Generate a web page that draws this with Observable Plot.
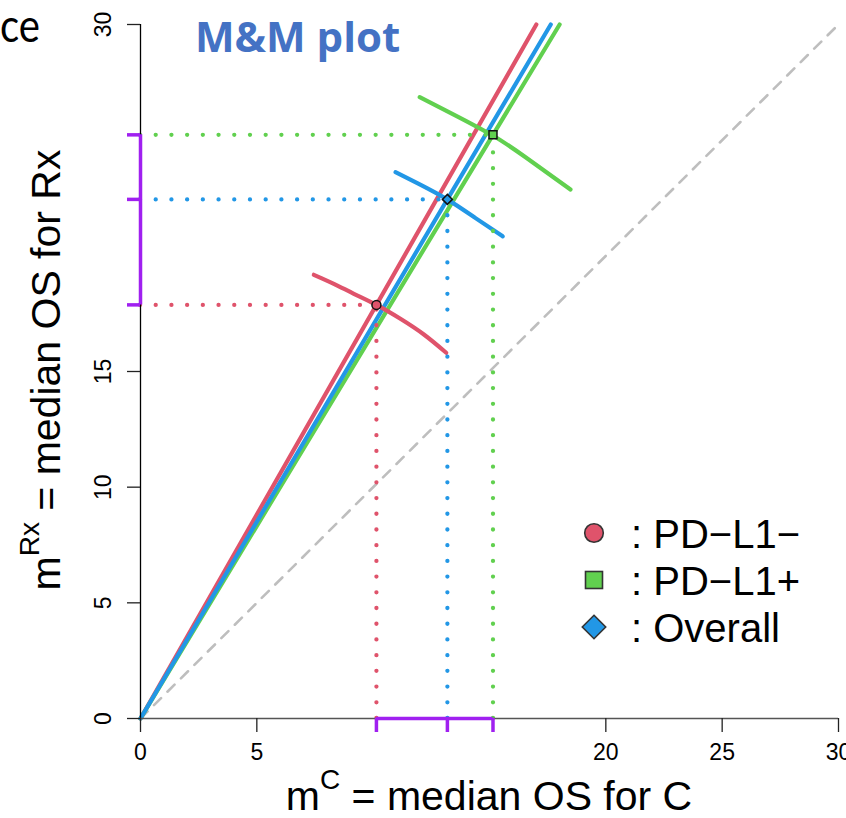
<!DOCTYPE html>
<html><head><meta charset="utf-8">
<script src="https://cdn.jsdelivr.net/npm/d3@7"></script>
<script src="https://cdn.jsdelivr.net/npm/@observablehq/plot@0.6"></script>
<style>
html,body{margin:0;padding:0;background:#fff;overflow:hidden}
#chart{position:relative;width:846px;height:818px}
</style></head><body><div id="chart"></div>
<script>
// ---- data ----
const groups = ["PD−L1−", "PD−L1+", "Overall"];
const colors = ["#DF536B", "#61D04F", "#2297E6"];
const symbols = ["circle", "square", "diamond2"];
const medianC = [10.14, 15.15, 13.19];   // m^C
const medianRx = [17.88, 25.23, 22.44];  // m^Rx
const arcRed = [[7.45,19.18],[8.31,18.79],[9.17,18.36],[10.14,17.88],[11.17,17.28],[12.18,16.60],[13.14,15.81]];
const arcGreen = [[12.00,26.86],[13.40,26.14],[15.14,25.20],[16.55,24.26],[18.48,22.87]];
const arcBlue = [[10.96,23.62],[11.96,23.11],[13.18,22.44],[14.40,21.63],[15.57,20.84]];
const arcs = [arcRed, arcGreen, arcBlue];
const xTicks = [0, 5, 20, 25, 30];
const yTicks = [0, 5, 10, 15, 30];
const axisMax = 30;

const purple = "#A020F0";
const font = "'Liberation Sans', Arial, sans-serif";

const marks = [];
// identity diagonal
marks.push(Plot.line([[0,0],[axisMax,axisMax]], {x: d=>d[0], y: d=>d[1], stroke: "#BEBEBE", strokeWidth: 2.6, strokeDasharray: "10 9"}));
// rays from origin through each point
for (const i of [0, 1, 2]) {
  const ray = [[0,0],[axisMax*medianC[i]/medianRx[i], axisMax]];
  marks.push(Plot.line(ray, {x: d=>d[0], y: d=>d[1], stroke: colors[i], strokeWidth: 4.2}));
}
// arcs
for (const i of [0, 1, 2]) {
  marks.push(Plot.line(arcs[i], {x: d=>d[0], y: d=>d[1], stroke: colors[i], strokeWidth: 4.2, curve: "natural"}));
}
// dotted guides
for (const i of [0, 1, 2]) {
  marks.push(Plot.ruleY([medianRx[i]], {x1: 0, x2: medianC[i], stroke: colors[i], strokeWidth: 4.3, strokeDasharray: "0.01 15.7", strokeLinecap: "round"}));
  marks.push(Plot.ruleX([medianC[i]], {y1: 0, y2: medianRx[i], stroke: colors[i], strokeWidth: 4.3, strokeDasharray: "0.01 15.7", strokeLinecap: "round"}));
}
// axes
marks.push(Plot.ruleX([0], {y1: 0, y2: axisMax, stroke: "#000", strokeWidth: 1.3}));
marks.push(Plot.ruleY([0], {x1: 0, x2: axisMax, stroke: "#555", strokeWidth: 1.6}));
marks.push(Plot.axisX(xTicks, {tickSize: 14, tickPadding: 11, fontSize: 23, label: null, stroke: "#222", strokeWidth: 1.3}));
marks.push(Plot.axisY(yTicks, {tickSize: 13, tickFormat: () => "", label: null, stroke: "#222", strokeWidth: 1.3}));
marks.push(Plot.text(yTicks, {x: 0, y: d=>d, text: d=>String(d), rotate: -90, dx: -37, fontSize: 23, fill: "#000"}));
// purple brackets
marks.push(Plot.ruleX([0], {y1: d3.min(medianRx), y2: d3.max(medianRx), stroke: purple, strokeWidth: 3.5}));
marks.push(Plot.ruleY([0], {x1: d3.min(medianC), x2: d3.max(medianC), stroke: purple, strokeWidth: 3.5}));
marks.push(Plot.axisY(medianRx, {tickSize: 13, tickFormat: () => "", label: null, stroke: purple, strokeWidth: 3.5}));
marks.push(Plot.axisX(medianC, {tickSize: 14, tickFormat: () => "", label: null, stroke: purple, strokeWidth: 3.5}));
// points
for (const i of [0, 1, 2]) {
  marks.push(Plot.dot([i], {x: ()=>medianC[i], y: ()=>medianRx[i], symbol: symbols[i], fill: colors[i], stroke: "#111", strokeWidth: 1.5, r: 4.5}));
}

const plot = Plot.plot({
  width: 846, height: 818,
  marginLeft: 140, marginRight: 8, marginTop: 24, marginBottom: 100,
  x: {domain: [0, axisMax]},
  y: {domain: [0, axisMax]},
  style: {fontFamily: font, fontSize: "23px", background: "#fff", color: "#000"},
  marks
});
document.getElementById("chart").appendChild(plot);

// ---- annotations ----
const svg = d3.select(plot);
// title
svg.append("text").attr("x", 195).attr("y", 52).attr("text-anchor", "start")
  .attr("font-family", "'Open Sans', Lato, sans-serif").attr("font-weight", "bold")
  .attr("font-size", 42).attr("fill", "#4472C4")
  .text("M&M plot");
svg.append("text").attr("x", 0).attr("y", 42).attr("text-anchor", "start")
  .attr("font-family", "Lato, 'Open Sans', sans-serif").attr("font-size", 46).attr("fill", "#000")
  .attr("textLength", 40).attr("lengthAdjust", "spacingAndGlyphs")
  .text("ce");

// axis titles with superscripts
function supLabel(g, base, sup, rest) {
  const t = g.append("text").attr("text-anchor", "middle").attr("font-family", font).attr("font-size", 41).attr("fill", "#000");
  t.append("tspan").text(base);
  t.append("tspan").attr("font-size", 28).attr("dy", -21).text(sup);
  t.append("tspan").attr("dy", 21).text(rest);
}
supLabel(svg.append("g").attr("transform", "translate(489,810)"), "m", "C", " = median OS for C");
supLabel(svg.append("g").attr("transform", "translate(60,370) rotate(-90)"), "m", "Rx", " = median OS for Rx");

// legend
const legendY = [533, 580, 627];
const lg = svg.append("g").attr("font-family", font).attr("font-size", 40).attr("text-anchor", "start");
groups.forEach((g, i) => {
  const cx = 594, cy = legendY[i];
  let p;
  if (symbols[i] === "circle") {
    p = lg.append("circle").attr("cx", cx).attr("cy", cy).attr("r", 9.3);
  } else if (symbols[i] === "square") {
    p = lg.append("rect").attr("x", cx-8.5).attr("y", cy-8.5).attr("width", 17).attr("height", 17);
  } else {
    const h = 11.7;
    p = lg.append("path").attr("d", `M${cx},${cy-h}L${cx+h},${cy}L${cx},${cy+h}L${cx-h},${cy}Z`);
  }
  p.attr("fill", colors[i]).attr("stroke", "#333").attr("stroke-width", 1.6);
  lg.append("text").attr("x", 631).attr("y", cy + 14.5).attr("text-anchor", "start").attr("fill", "#000").text(": " + g);
});
</script></body></html>
